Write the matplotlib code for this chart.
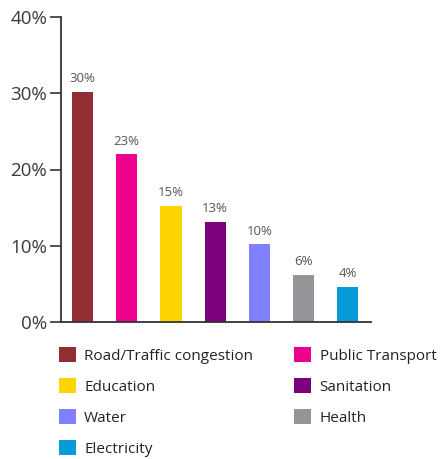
import matplotlib
matplotlib.use("Agg")
import matplotlib.pyplot as plt

categories = ["Road/Traffic congestion", "Public Transport", "Education", "Sanitation",
              "Water", "Health", "Electricity"]
values = [30.2, 22.0, 15.2, 13.1, 10.2, 6.2, 4.6]
value_labels = ["30%", "23%", "15%", "13%", "10%", "6%", "4%"]
colors = ["#922D33", "#EC008C", "#FFD500", "#7D007D", "#8080FF", "#939598", "#079CD9"]
yticks = [0, 10, 20, 30, 40]
ytick_labels = ["0%", "10%", "20%", "30%", "40%"]

plt.rcParams['font.family'] = ['Open Sans', 'DejaVu Sans']

fig = plt.figure(figsize=(4.42, 4.59), dpi=100)
W, H = 442, 459
ax = fig.add_axes([61 / W, (H - 322) / H, (371 - 61) / W, (322 - 17) / H])

x = list(range(len(categories)))
bars = ax.bar(x, values, width=0.48, color=colors, label=categories)

for xi, v, lab in zip(x, values, value_labels):
    ax.annotate(lab, (xi, v), xytext=(0, 7), textcoords="offset points",
                ha="center", va="baseline", fontsize=9.5, color="#555555")

ax.set_xlim(-0.49, 6.53)
ax.set_ylim(0, 40)
ax.set_yticks(yticks)
ax.set_yticklabels(ytick_labels)
ax.set_xticks([])
ax.tick_params(axis="y", length=8, width=1.2, color="#333333", labelsize=13.5,
               labelcolor="#3a3a3a", pad=2)
for s in ["top", "right"]:
    ax.spines[s].set_visible(False)
for s in ["left", "bottom"]:
    ax.spines[s].set_color("#333333")
    ax.spines[s].set_linewidth(1.3)

order = [0, 2, 4, 6, 1, 3, 5]
handles = [bars[i] for i in order]
labels = [categories[i] for i in order]
leg = fig.legend(handles, labels, ncol=2, loc="upper left",
                 bbox_to_anchor=(59 / W, (H - 347) / H),
                 frameon=False, fontsize=11, handlelength=1.1, handleheight=1.1,
                 handletextpad=0.55, columnspacing=2.7, labelspacing=0.95,
                 borderaxespad=0, borderpad=0)
for t in leg.get_texts():
    t.set_color("#222222")

fig.savefig("out.png", dpi=100)
